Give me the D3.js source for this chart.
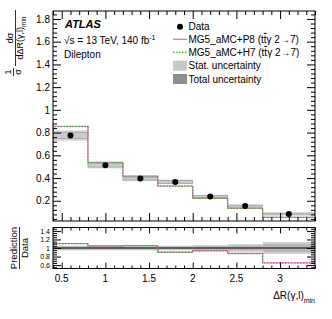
<!DOCTYPE html>
<html>
<head>
<meta charset="utf-8">
<script src="https://cdn.jsdelivr.net/npm/d3@7"></script>
<style>
  body { margin: 0; background: #fff; }
  svg { display: block; font-family: "Liberation Sans", Arial, sans-serif; }
</style>
</head>
<body>
<svg id="chart" width="332" height="319"></svg>
<script>
// bins of dR(gamma,l)_min
var binEdges = [0.4, 0.8, 1.2, 1.6, 2.0, 2.4, 2.8, 3.4]
var dataVals = [0.774, 0.513, 0.395, 0.366, 0.237, 0.153, 0.084]
var statUnc  = [0.026, 0.016, 0.013, 0.012, 0.010, 0.009, 0.008]
var totUnc   = [0.045, 0.028, 0.022, 0.020, 0.016, 0.014, 0.012]
var p8Vals   = [0.856, 0.539, 0.418, 0.330, 0.222, 0.134, 0.055]
var h7Vals   = [0.853, 0.537, 0.416, 0.329, 0.221, 0.133, 0.054]
var xTicks   = [0.5, 1, 1.5, 2, 2.5, 3]
var yTicks   = [0.2, 0.4, 0.6, 0.8, 1, 1.2, 1.4, 1.6, 1.8]
var rTicks   = [0.6, 0.8, 1, 1.2, 1.4]

var PINK = "#ff55d0", GREEN = "#22bb22"
var LIGHT = "#d2d2d2", DARK = "#a0a0a0"

var svg = d3.select("#chart")
var L = 53, R = 315
var mainTop = 11, mainBot = 221
var ratTop = 227.5, ratBot = 268.5

var x = d3.scaleLinear().domain([0.4, 3.4]).range([L, R])
var y = d3.scaleLinear().domain([0.022, 1.87]).range([mainBot, mainTop])
var yr = d3.scaleLinear().domain([0.52, 1.48]).range([ratBot, ratTop])

var bins = dataVals.map(function(d, i){
    return {x0: binEdges[i], x1: binEdges[i+1], xc: (binEdges[i]+binEdges[i+1])/2,
            v: d, stat: statUnc[i], tot: totUnc[i], p8: p8Vals[i], h7: h7Vals[i]}
})

function stepLine(vals, sc){
    var pts = []
    vals.forEach(function(v, i){
        pts.push([x(binEdges[i]), sc(v)])
        pts.push([x(binEdges[i+1]), sc(v)])
    })
    return d3.line()(pts)
}

// ---------------- main panel ----------------
var main = svg.append("g")
main.append("clipPath").attr("id","clipMain").append("rect")
    .attr("x",L).attr("y",mainTop).attr("width",R-L).attr("height",mainBot-mainTop)

var bands = main.append("g").attr("clip-path","url(#clipMain)")
bands.selectAll("rect.tot").data(bins).enter().append("rect")
    .attr("x", d => x(d.x0)).attr("width", d => x(d.x1)-x(d.x0))
    .attr("y", d => y(d.v+d.tot)).attr("height", d => y(d.v-d.tot)-y(d.v+d.tot))
    .attr("fill", LIGHT)
bands.selectAll("rect.stat").data(bins).enter().append("rect")
    .attr("x", d => x(d.x0)).attr("width", d => x(d.x1)-x(d.x0))
    .attr("y", d => y(d.v+d.stat)).attr("height", d => y(d.v-d.stat)-y(d.v+d.stat))
    .attr("fill", "#cbcbcb").attr("stroke", DARK).attr("stroke-width", 0.7)

// MC histograms (with the vertical drops down to the axis at the sides)
function histPath(vals){
    var pts = [[x(binEdges[0]), y.range()[0]]]
    vals.forEach(function(v, i){
        pts.push([x(binEdges[i]), y(v)])
        pts.push([x(binEdges[i+1]), y(v)])
    })
    pts.push([x(binEdges[binEdges.length-1]), y.range()[0]])
    return d3.line()(pts)
}
bands.append("path").attr("d", histPath(p8Vals)).attr("fill","none")
    .attr("stroke", PINK).attr("stroke-width", 1.2)
bands.append("path").attr("d", histPath(h7Vals)).attr("fill","none")
    .attr("stroke", GREEN).attr("stroke-width", 1.2).attr("stroke-dasharray","1.5,1.5")

main.selectAll("circle.data").data(bins).enter().append("circle")
    .attr("cx", d => x(d.xc)).attr("cy", d => y(d.v)).attr("r", 3).attr("fill","#000")

// frame + inward ticks on all four sides
function frame(g, sy, top, bot, majY, minY, majLen, minLen, fmt, fs){
    g.append("rect").attr("x",L).attr("y",top).attr("width",R-L).attr("height",bot-top)
        .attr("fill","none").attr("stroke","#000").attr("stroke-width",1)
    var minX = d3.range(0.4, 3.41, 0.1).map(v => +v.toFixed(2))
    var sizes = [[xTicks, majLen], [minX.filter(v => xTicks.indexOf(v) < 0), minLen]]
    sizes.forEach(function(s){
        g.append("g").attr("transform","translate(0,"+bot+")")
            .call(d3.axisBottom(x).tickValues(s[0]).tickSize(-s[1]).tickFormat(""))
        g.append("g").attr("transform","translate(0,"+top+")")
            .call(d3.axisTop(x).tickValues(s[0]).tickSize(-s[1]).tickFormat(""))
    })
    var ysz = [[majY, 8], [minY.filter(v => majY.indexOf(v) < 0), 4]]
    ysz.forEach(function(s, k){
        var ax = d3.axisLeft(sy).tickValues(s[0]).tickSize(-s[1]).tickPadding(3)
            .tickFormat(k == 0 ? fmt : "")
        g.append("g").attr("transform","translate("+L+",0)").call(ax)
        g.append("g").attr("transform","translate("+R+",0)")
            .call(d3.axisRight(sy).tickValues(s[0]).tickSize(-s[1]).tickFormat(""))
    })
    g.selectAll(".domain").remove()
    g.selectAll(".tick line").attr("stroke","#000")
    g.selectAll(".tick text").attr("font-size", fs).attr("fill","#000")
        .style("font-family","Liberation Sans, Arial, sans-serif")
}
var fmtY = d => d === 1 ? "1" : d3.format(".1f")(d)
var minYmain = d3.range(0.04, 1.87, 0.04).map(v => +v.toFixed(2))
frame(main, y, mainTop, mainBot, yTicks, minYmain, 8, 4, fmtY, "10px")

// ---------------- ratio panel ----------------
var rat = svg.append("g")
rat.append("clipPath").attr("id","clipRat").append("rect")
    .attr("x",L).attr("y",ratTop).attr("width",R-L).attr("height",ratBot-ratTop)
var rb = rat.append("g").attr("clip-path","url(#clipRat)")
rb.selectAll("rect.rtot").data(bins).enter().append("rect")
    .attr("x", d => x(d.x0)).attr("width", d => x(d.x1)-x(d.x0))
    .attr("y", d => yr(1+d.tot/d.v)).attr("height", d => yr(1-d.tot/d.v)-yr(1+d.tot/d.v))
    .attr("fill", LIGHT)
rb.selectAll("rect.rstat").data(bins).enter().append("rect")
    .attr("x", d => x(d.x0)).attr("width", d => x(d.x1)-x(d.x0))
    .attr("y", d => yr(1+d.stat/d.v)).attr("height", d => yr(1-d.stat/d.v)-yr(1+d.stat/d.v))
    .attr("fill", "#b8b8b8")
rb.append("line").attr("x1",L).attr("x2",R).attr("y1",yr(1)).attr("y2",yr(1))
    .attr("stroke","#000").attr("stroke-width",1.2)
rb.append("path").attr("d", stepLine(bins.map(d => d.p8/d.v), yr)).attr("fill","none")
    .attr("stroke", PINK).attr("stroke-width", 1.2)
rb.append("path").attr("d", stepLine(bins.map(d => d.h7/d.v), yr)).attr("fill","none")
    .attr("stroke", GREEN).attr("stroke-width", 1.2).attr("stroke-dasharray","1.5,1.5")

var minYrat = d3.range(0.55, 1.48, 0.05).map(v => +v.toFixed(2))
frame(rat, yr, ratTop, ratBot, rTicks, minYrat, 6, 3, fmtY, "7px")

// x tick labels
svg.append("g").selectAll("text").data(xTicks).enter().append("text")
    .attr("x", d => x(d)).attr("y", 282).attr("text-anchor","middle")
    .attr("font-size","10px").text(d => d)

// x title
var xt = svg.append("text").attr("x", 315).attr("y", 299).attr("text-anchor","end")
    .attr("font-size","10px")
xt.append("tspan").text("ΔR(γ,l)")
xt.append("tspan").attr("font-size","7px").attr("dy", 4).text("min")

// y title main : 1/σ dσ/dΔR(γ,l)_min
var yt = svg.append("g").attr("transform","rotate(-90)")
yt.append("text").attr("x",-72).attr("y",11).attr("text-anchor","middle").attr("font-size","9px").text("1")
yt.append("line").attr("x1",-76).attr("x2",-68).attr("y1",13.5).attr("y2",13.5).attr("stroke","#000").attr("stroke-width",0.8)
yt.append("text").attr("x",-72).attr("y",21).attr("text-anchor","middle").attr("font-size","9px").text("σ")
yt.append("text").attr("x",-38).attr("y",12.5).attr("text-anchor","middle").attr("font-size","9px").text("dσ")
yt.append("line").attr("x1",-66).attr("x2",-10).attr("y1",15.5).attr("y2",15.5).attr("stroke","#000").attr("stroke-width",0.8)
var den = yt.append("text").attr("x",-38).attr("y",23).attr("text-anchor","middle").attr("font-size","9px")
den.append("tspan").text("dΔR(γ,l)")
den.append("tspan").attr("font-size","6.5px").attr("dy",3).text("min")

// y title ratio : Prediction / Data
var yr2 = svg.append("g").attr("transform","rotate(-90)")
yr2.append("text").attr("x",-248).attr("y",17).attr("text-anchor","middle").attr("font-size","9.5px").text("Prediction")
yr2.append("line").attr("x1",-269).attr("x2",-227).attr("y1",19.5).attr("y2",19.5).attr("stroke","#000").attr("stroke-width",0.8)
yr2.append("text").attr("x",-248).attr("y",28).attr("text-anchor","middle").attr("font-size","9.5px").text("Data")

// ATLAS label
svg.append("text").attr("x",65).attr("y",27.5).attr("font-size","11px")
    .attr("font-weight","bold").attr("font-style","italic").text("ATLAS")
var en = svg.append("text").attr("x",64).attr("y",44).attr("font-size","10px")
en.append("tspan").text("√s = 13 TeV, 140 fb")
en.append("tspan").attr("font-size","7px").attr("dy",-4).text("-1")
svg.append("text").attr("x",64).attr("y",57.5).attr("font-size","10px").text("Dilepton")

// legend
var lx = 173, lw = 14, ltx = 188.5
var leg = svg.append("g")
var legY = [26.7, 39.3, 52.3, 65.7, 79]
leg.append("circle").attr("cx", lx+lw/2).attr("cy", legY[0]).attr("r",3)
leg.append("line").attr("x1",lx).attr("x2",lx+lw).attr("y1",legY[1]).attr("y2",legY[1])
    .attr("stroke",PINK).attr("stroke-width",1.2)
leg.append("line").attr("x1",lx).attr("x2",lx+lw).attr("y1",legY[2]).attr("y2",legY[2])
    .attr("stroke",GREEN).attr("stroke-width",1.2).attr("stroke-dasharray","1.5,1.5")
leg.append("rect").attr("x",lx).attr("y",legY[3]-5).attr("width",lw).attr("height",10).attr("fill","#c8c8c8")
leg.append("rect").attr("x",lx).attr("y",legY[4]-5).attr("width",lw).attr("height",10).attr("fill","#8e8e8e")

// legend entries: [text before, overlined t, text after]
var legTxt = [["Data", "", ""],
              ["MG5_aMC+P8 (t", "t", "γ 2→7)"],
              ["MG5_aMC+H7 (t", "t", "γ 2→7)"],
              ["Stat. uncertainty", "", ""],
              ["Total uncertainty", "", ""]]
legTxt.forEach(function(t, i){
    var tx = leg.append("text").attr("x", ltx).attr("y", legY[i]+3.6).attr("font-size","10px")
    tx.append("tspan").text(t[0])
    if(t[1] != ""){
        tx.append("tspan").style("text-decoration","overline").text(t[1])
        tx.append("tspan").text(t[2])
    }
})
</script>
</body>
</html>
